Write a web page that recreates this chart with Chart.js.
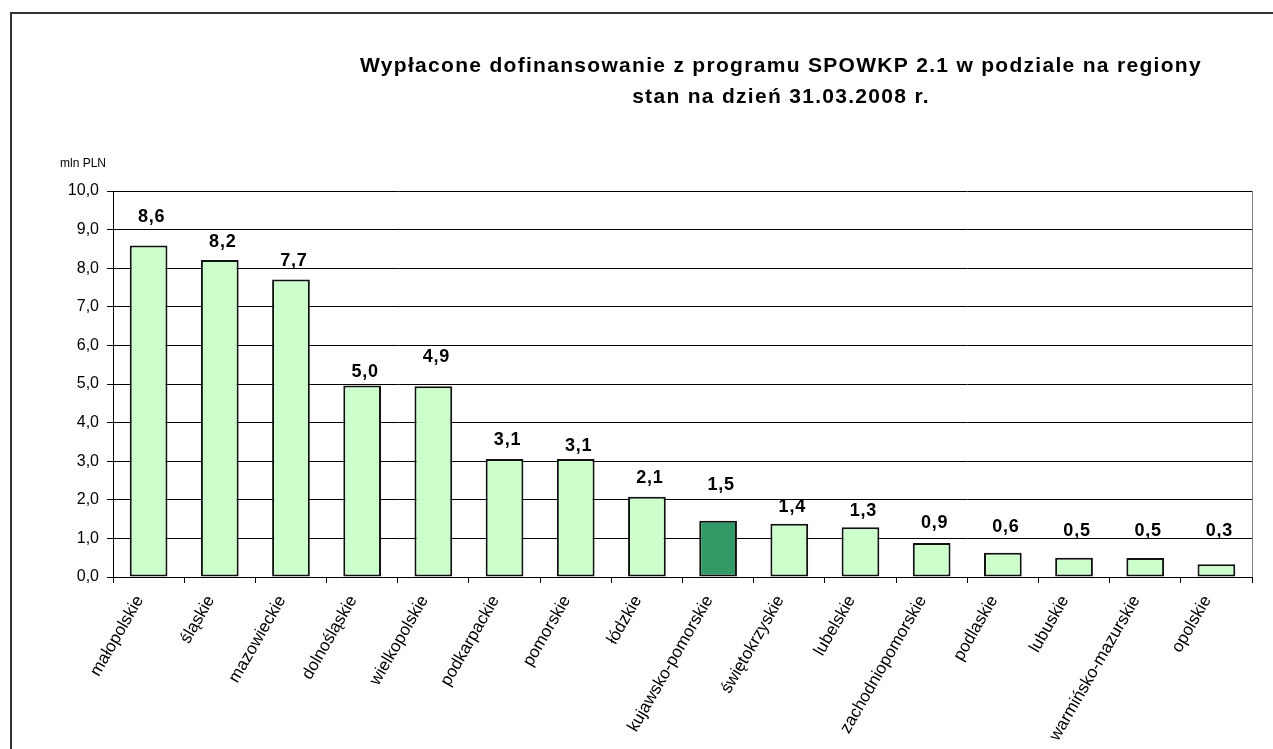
<!DOCTYPE html>
<html>
<head>
<meta charset="utf-8">
<title>Wypłacone dofinansowanie SPOWKP 2.1</title>
<script src="https://cdn.jsdelivr.net/npm/chart.js@4.4.1/dist/chart.umd.min.js"></script>
<style>
  html, body { margin: 0; padding: 0; background: #fff; }
  #wrap { position: relative; width: 1273px; height: 749px; }
</style>
</head>
<body>
<div id="wrap"><canvas id="chart"></canvas></div>
<script>
// Chart data
const regions = ['małopolskie', 'śląskie', 'mazowieckie', 'dolnośląskie', 'wielkopolskie',
    'podkarpackie', 'pomorskie', 'łódzkie', 'kujawsko-pomorskie', 'świętokrzyskie',
    'lubelskie', 'zachodniopomorskie', 'podlaskie', 'lubuskie', 'warmińsko-mazurskie', 'opolskie'];
const payments = [8.59, 8.21, 7.71, 4.96, 4.94, 3.06, 3.06, 2.08, 1.46, 1.38, 1.29, 0.88, 0.63, 0.50, 0.49, 0.33];
const highlighted = ['kujawsko-pomorskie'];
const yTicks = [0, 1, 2, 3, 4, 5, 6, 7, 8, 9, 10];
const titleLines = ['Wypłacone dofinansowanie z programu SPOWKP 2.1 w podziale na regiony',
    'stan na dzień 31.03.2008 r.'];
const unitLabel = 'mln PLN';

const FONT = 'Arial, "Liberation Sans", sans-serif';

// gap (px) between bar top and its value label, as placed in the original sheet
const labelGap = [23, 13, 13, 9, 24, 14, 8, 14, 31, 12, 11, 15, 21, 22, 22, 28];

function fmt(v) {
    return v.toFixed(1).replace('.', ',');
}

// Frame, title and unit label
const decorPlugin = {
    id: 'decor',
    beforeDraw(chart) {
        const ctx = chart.ctx;
        ctx.save();
        ctx.fillStyle = '#fff';
        ctx.fillRect(0, 0, chart.width, chart.height);
        ctx.strokeStyle = '#333';
        ctx.lineWidth = 2;
        ctx.beginPath();
        ctx.moveTo(11, chart.height);
        ctx.lineTo(11, 13);
        ctx.lineTo(chart.width, 13);
        ctx.stroke();
        ctx.restore();
    },
    afterDraw(chart) {
        const ctx = chart.ctx;
        const area = chart.chartArea;
        ctx.save();
        // right edge of plot area
        ctx.strokeStyle = '#808080';
        ctx.lineWidth = 1;
        ctx.beginPath();
        ctx.moveTo(Math.round(area.right) + 0.5, area.top);
        ctx.lineTo(Math.round(area.right) + 0.5, area.bottom);
        ctx.stroke();

        ctx.fillStyle = '#000';
        ctx.textAlign = 'center';
        ctx.textBaseline = 'alphabetic';
        ctx.font = 'bold 21px ' + FONT;
        if ('letterSpacing' in ctx) ctx.letterSpacing = '1.3px';
        ctx.fillText(titleLines[0], 781, 72);
        ctx.fillText(titleLines[1], 781, 103);
        if ('letterSpacing' in ctx) ctx.letterSpacing = '0px';

        ctx.textAlign = 'left';
        ctx.font = '12px ' + FONT;
        ctx.fillText(unitLabel, 60, 167);
        ctx.restore();
    }
};

// Value labels above bars
const valueLabels = {
    id: 'valueLabels',
    afterDatasetsDraw(chart) {
        const ctx = chart.ctx;
        const meta = chart.getDatasetMeta(0);
        ctx.save();
        ctx.fillStyle = '#000';
        ctx.font = 'bold 18px ' + FONT;
        ctx.textAlign = 'center';
        ctx.textBaseline = 'alphabetic';
        if ('letterSpacing' in ctx) ctx.letterSpacing = '0.8px';
        meta.data.forEach((bar, i) => {
            ctx.fillText(fmt(payments[i]), bar.x + 3, bar.y - labelGap[i]);
        });
        ctx.restore();
    }
};

const chart = new Chart(document.getElementById('chart'), {
    type: 'bar',
    data: {
        labels: regions,
        datasets: [{
            data: payments,
            backgroundColor: regions.map(r => highlighted.includes(r) ? '#339966' : '#CCFFCC'),
            borderColor: '#111',
            borderWidth: 2,
            borderSkipped: false,
            barPercentage: 0.53,
            categoryPercentage: 1
        }]
    },
    options: {
        responsive: true,
        maintainAspectRatio: false,
        animation: false,
        layout: {
            padding: { top: 191, right: 21, left: 0, bottom: 0 }
        },
        plugins: {
            legend: { display: false },
            title: { display: false },
            tooltip: { enabled: false }
        },
        scales: {
            x: {
                grid: {
                    drawOnChartArea: false,
                    drawTicks: true,
                    tickLength: 6,
                    color: '#000',
                    offset: true
                },
                border: { color: '#000', width: 1 },
                ticks: {
                    color: '#000',
                    font: { family: FONT, size: 17 },
                    minRotation: 60,
                    maxRotation: 60,
                    autoSkip: false,
                    padding: 9,
                    labelOffset: -9
                },
                afterFit(scale) { scale.height = 172; }
            },
            y: {
                min: 0,
                max: 10,
                grid: { color: '#000', tickLength: 6, lineWidth: 1 },
                border: { color: '#000', width: 1 },
                ticks: {
                    color: '#000',
                    font: { family: FONT, size: 16 },
                    padding: 8,
                    callback: v => fmt(v)
                },
                afterBuildTicks(axis) {
                    axis.ticks = yTicks.map(v => ({ value: v }));
                },
                afterFit(scale) { scale.width = 113; }
            }
        }
    },
    plugins: [decorPlugin, valueLabels]
});
</script>
</body>
</html>
